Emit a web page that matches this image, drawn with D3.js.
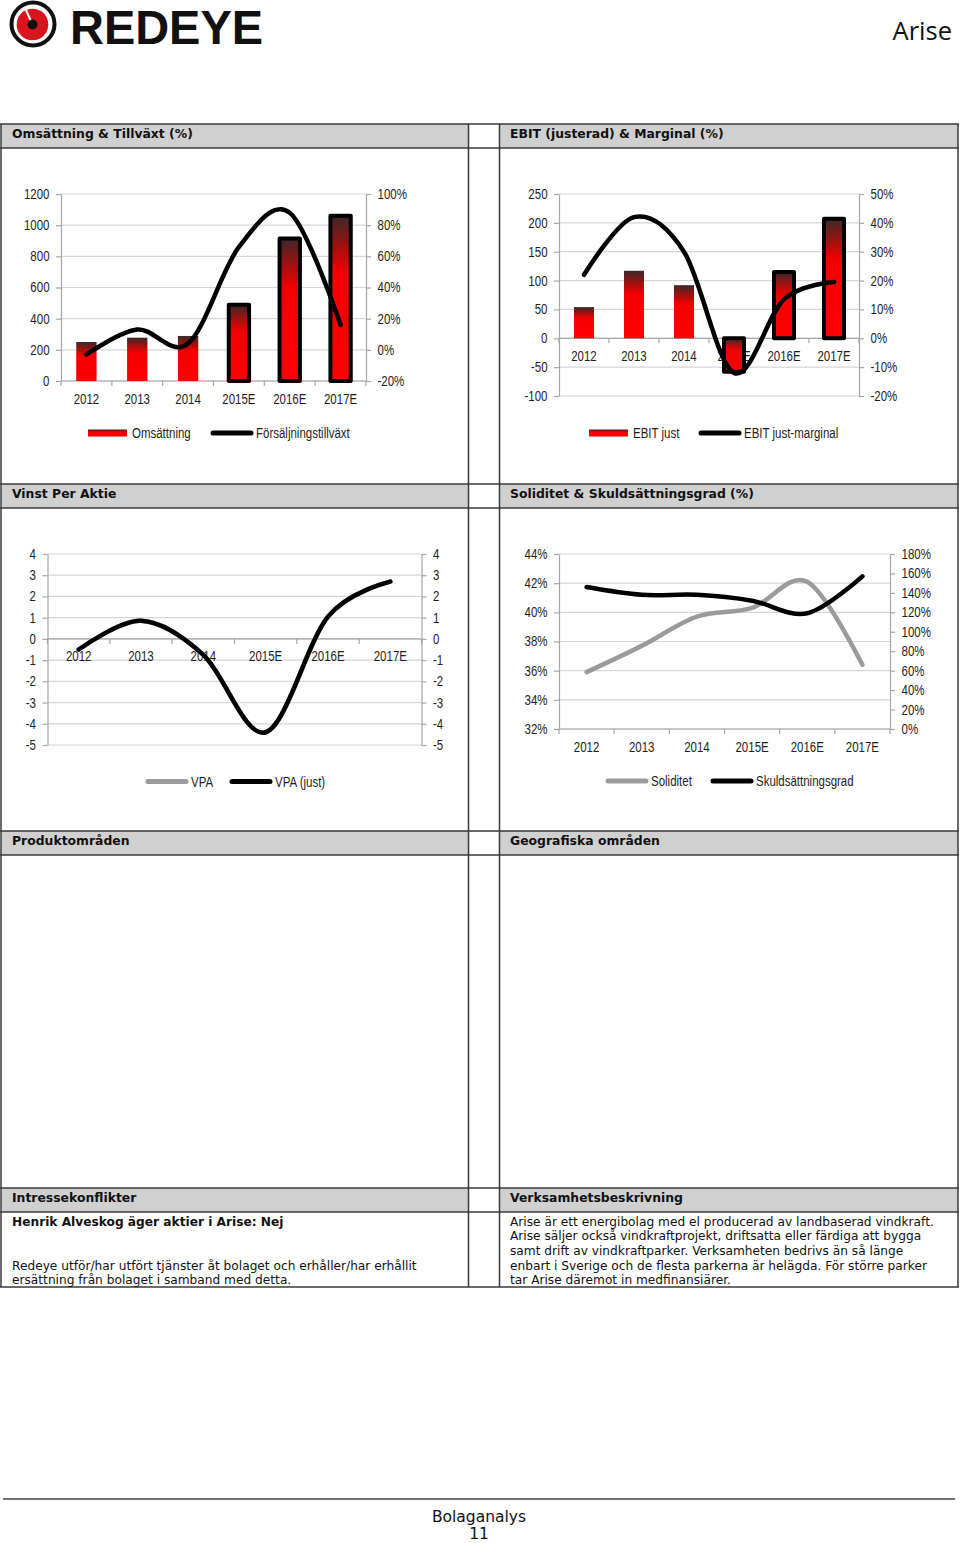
<!DOCTYPE html>
<html>
<head>
<meta charset="utf-8">
<script src="https://cdn.jsdelivr.net/npm/d3@7"></script>
<style>
  body { margin: 0; background: #fff; }
  svg { display: block; }
</style>
</head>
<body>
<svg id="page" width="960" height="1543"></svg>
<script>
// ---- data ----
const years = ['2012', '2013', '2014', '2015E', '2016E', '2017E'];

const omsattning = [250, 278, 289, 490, 915, 1060];
const tillvaxt = [-3, 13, 4, 66, 88, 16];           // %

const ebitJust = [54, 117, 92, -58, 115, 207];
const ebitMarginal = [22, 42, 30, -12, 13.5, 19.5]; // %

const vpa = [-0.5, 0.85, -0.75, -4.4, 1.05, 2.7];
const vpaJust = [-0.5, 0.85, -0.75, -4.4, 1.05, 2.7];

const soliditet = [35.9, 37.7, 39.7, 40.3, 42.1, 36.4];  // %
const skuldsattning = [146, 138, 138, 132, 119, 157];    // %

const ticks1L = [0, 200, 400, 600, 800, 1000, 1200];
const ticks1R = [-20, 0, 20, 40, 60, 80, 100];
const ticks2L = [-100, -50, 0, 50, 100, 150, 200, 250];
const ticks2R = [-20, -10, 0, 10, 20, 30, 40, 50];
const ticks3 = [-5, -4, -3, -2, -1, 0, 1, 2, 3, 4];
const ticks4L = [32, 34, 36, 38, 40, 42, 44];
const ticks4R = [0, 20, 40, 60, 80, 100, 120, 140, 160, 180];

const sections = [
  {y: 124, left: 'Omsättning & Tillväxt (%)', right: 'EBIT (justerad) & Marginal (%)'},
  {y: 484, left: 'Vinst Per Aktie', right: 'Soliditet & Skuldsättningsgrad (%)'},
  {y: 831, left: 'Produktområden', right: 'Geografiska områden'},
  {y: 1188, left: 'Intressekonflikter', right: 'Verksamhetsbeskrivning'}
];
const conflictLines = [
  'Redeye utför/har utfört tjänster åt bolaget och erhåller/har erhållit',
  'ersättning från bolaget i samband med detta.'
];
const descLines = [
  'Arise är ett energibolag med el producerad av landbaserad vindkraft.',
  'Arise säljer också vindkraftprojekt, driftsatta eller färdiga att bygga',
  'samt drift av vindkraftparker. Verksamheten bedrivs än så länge',
  'enbart i Sverige och de flesta parkerna är helägda. För större parker',
  'tar Arise däremot in medfinansiärer.'
];

const svg = d3.select('#page');
const BORDER = '#3a3a3a';
const VERDANA = "'DejaVu Sans', Verdana, sans-serif";

// Excel charts use Arial Narrow; use Liberation Sans Narrow if present, else squeeze Liberation Sans
function measure(family, s) {
  const t = svg.append('text').attr('font-family', family).attr('font-size', 20).text(s);
  const w = t.node().getComputedTextLength();
  t.remove();
  return w;
}
const probe = 'Försäljningstillväxt 2015E';
const hasNarrow = measure("'Liberation Sans Narrow'", probe) < 0.9 * measure("'Liberation Sans'", probe);
const CHART_FONT = hasNarrow ? "'Liberation Sans Narrow', sans-serif" : "'Liberation Sans', Arial, sans-serif";
function squeeze(sel) {
  if (hasNarrow) return;
  sel.each(function() {
    const w = this.getComputedTextLength();
    d3.select(this).attr('textLength', w * 0.82).attr('lengthAdjust', 'spacingAndGlyphs');
  });
}

// ---- gradient for the bars ----
const defs = svg.append('defs');
const grad = defs.append('linearGradient').attr('id', 'barGrad')
  .attr('x1', 0).attr('y1', 0).attr('x2', 0).attr('y2', 1);
grad.append('stop').attr('offset', '0%').attr('stop-color', '#3b2828');
grad.append('stop').attr('offset', '15%').attr('stop-color', '#8e1414');
grad.append('stop').attr('offset', '34%').attr('stop-color', '#f20000');
grad.append('stop').attr('offset', '100%').attr('stop-color', '#ff0000');

// ---- page header ----
const logo = svg.append('g');
logo.append('circle').attr('cx', 33).attr('cy', 24).attr('r', 21.5)
  .attr('fill', '#fff').attr('stroke', '#111').attr('stroke-width', 4);
logo.append('circle').attr('cx', 32.5).attr('cy', 24.5).attr('r', 15.8).attr('fill', '#d8141c');
logo.append('circle').attr('cx', 32.5).attr('cy', 24.5).attr('r', 5).attr('fill', '#111');
logo.append('path').attr('d', 'M26,10 L30.5,20').attr('stroke', '#fff').attr('stroke-width', 2);
svg.append('text').attr('x', 70).attr('y', 44)
  .attr('font-family', "'Liberation Sans', Arial, sans-serif").attr('font-weight', 'bold')
  .attr('font-size', 49).attr('fill', '#111')
  .attr('textLength', 193).attr('lengthAdjust', 'spacingAndGlyphs').text('REDEYE');
svg.append('text').attr('x', 952).attr('y', 40).attr('text-anchor', 'end')
  .attr('font-family', "'Open Sans', sans-serif").attr('font-size', 25.5).attr('fill', '#111')
  .text('Arise');

// ---- table frame ----
const colL = [1, 468.5], colR = [499.5, 958];
const frame = svg.append('g');
sections.forEach(s => {
  frame.append('rect').attr('x', colL[0]).attr('y', s.y).attr('width', colL[1] - colL[0]).attr('height', 24).attr('fill', '#d0d0d0');
  frame.append('rect').attr('x', colR[0]).attr('y', s.y).attr('width', colR[1] - colR[0]).attr('height', 24).attr('fill', '#d0d0d0');
  [s.y, s.y + 24].forEach(y => frame.append('line').attr('x1', 0).attr('x2', 959).attr('y1', y).attr('y2', y)
    .attr('stroke', BORDER).attr('stroke-width', 1.5));
  frame.append('text').attr('x', 12).attr('y', s.y + 9.3).attr('dy', '0.36em')
    .attr('font-family', VERDANA).attr('font-weight', 'bold').attr('font-size', 12.4).attr('fill', '#111').text(s.left);
  frame.append('text').attr('x', 510).attr('y', s.y + 9.3).attr('dy', '0.36em')
    .attr('font-family', VERDANA).attr('font-weight', 'bold').attr('font-size', 12.4).attr('fill', '#111').text(s.right);
});
frame.append('line').attr('x1', 0).attr('x2', 959).attr('y1', 1287).attr('y2', 1287)
  .attr('stroke', BORDER).attr('stroke-width', 1.5);
[colL[0], colL[1], colR[0], colR[1]].forEach(x => frame.append('line')
  .attr('x1', x).attr('x2', x).attr('y1', 124).attr('y2', 1287).attr('stroke', BORDER).attr('stroke-width', 1.5));

// ---- text cells ----
frame.append('text').attr('x', 12).attr('y', 1226)
  .attr('font-family', VERDANA).attr('font-weight', 'bold').attr('font-size', 12.2).attr('fill', '#111')
  .text('Henrik Alveskog äger aktier i Arise: Nej');
frame.selectAll('text.conf').data(conflictLines).join('text').attr('class', 'conf')
  .attr('x', 12).attr('y', (d, i) => 1269.5 + i * 14.7)
  .attr('font-family', VERDANA).attr('font-size', 12.2).attr('fill', '#111').text(d => d);
frame.selectAll('text.desc').data(descLines).join('text').attr('class', 'desc')
  .attr('x', 510).attr('y', (d, i) => 1225.5 + i * 14.7)
  .attr('font-family', VERDANA).attr('font-size', 12.2).attr('fill', '#111').text(d => d);

// ---- footer ----
svg.append('line').attr('x1', 3).attr('x2', 955).attr('y1', 1499).attr('y2', 1499)
  .attr('stroke', '#444').attr('stroke-width', 1.3);
svg.append('text').attr('x', 479).attr('y', 1522).attr('text-anchor', 'middle')
  .attr('font-family', VERDANA).attr('font-size', 15.5).attr('fill', '#111').text('Bolaganalys');
svg.append('text').attr('x', 479).attr('y', 1538.5).attr('text-anchor', 'middle')
  .attr('font-family', VERDANA).attr('font-size', 15.5).attr('fill', '#111').text('11');

// ---- chart drawing ----
const pct = d => d + '%';

function drawChart(cfg) {
  const g = svg.append('g');
  const x = d3.scaleBand().domain(years).range([cfg.x0, cfg.x1]);
  const xb = d3.scaleBand().domain(years).range([cfg.x0, cfg.x1]).paddingInner(0.6).paddingOuter(0.3);
  const yL = d3.scaleLinear().domain(d3.extent(cfg.leftTicks)).range([cfg.y1, cfg.y0]);
  const yR = d3.scaleLinear().domain(d3.extent(cfg.rightTicks)).range([cfg.y1, cfg.y0]);
  const mid = d => x(d) + x.bandwidth() / 2;

  // gridlines
  g.append('g').selectAll('line').data(cfg.leftTicks).join('line')
    .attr('x1', cfg.x0).attr('x2', cfg.x1)
    .attr('y1', d => yL(d)).attr('y2', d => yL(d))
    .attr('stroke', '#d6d6d6').attr('stroke-width', 1.2);

  // value axes
  const la = g.append('g').attr('transform', `translate(${cfg.x0},0)`)
    .call(d3.axisLeft(yL).tickValues(cfg.leftTicks).tickFormat(cfg.leftFmt).tickSize(5).tickSizeOuter(0).tickPadding(6.5));
  const ra = g.append('g').attr('transform', `translate(${cfg.x1},0)`)
    .call(d3.axisRight(yR).tickValues(cfg.rightTicks).tickFormat(cfg.rightFmt).tickSize(5).tickSizeOuter(0).tickPadding(6.5));
  [la, ra].forEach(a => {
    a.attr('font-family', null).attr('font-size', null);
    a.select('.domain').attr('stroke', '#a6a6a6').attr('stroke-width', 1.2);
    a.selectAll('.tick line').attr('stroke', '#a6a6a6').attr('stroke-width', 1.2);
    a.selectAll('.tick text').attr('font-family', CHART_FONT).attr('font-size', 14).attr('fill', '#1e1e1e');
    squeeze(a.selectAll('.tick text'));
  });

  // category axis
  const ay = yL(cfg.catAt);
  const cat = g.append('g');
  cat.append('line').attr('x1', cfg.x0).attr('x2', cfg.x1).attr('y1', ay).attr('y2', ay)
    .attr('stroke', '#a6a6a6').attr('stroke-width', 1.2);
  cat.selectAll('line.tk').data(years.map(d => x(d)).concat([cfg.x1])).join('line').attr('class', 'tk')
    .attr('x1', d => d).attr('x2', d => d).attr('y1', ay).attr('y2', ay + 5)
    .attr('stroke', '#a6a6a6').attr('stroke-width', 1.2);
  const labels = cat.selectAll('text').data(years).join('text')
    .attr('x', d => mid(d)).attr('y', ay + 22.5).attr('text-anchor', 'middle')
    .attr('font-family', CHART_FONT).attr('font-size', 14).attr('fill', '#1e1e1e').text(d => d);
  squeeze(labels);

  // bars
  if (cfg.bars) {
    const rows = years.map((d, i) => ({year: d, v: cfg.bars[i], est: d.endsWith('E')}));
    g.append('g').selectAll('rect').data(rows).join('rect')
      .attr('x', d => xb(d.year)).attr('width', xb.bandwidth())
      .attr('y', d => Math.min(yL(d.v), yL(0)))
      .attr('height', d => Math.abs(yL(d.v) - yL(0)))
      .attr('fill', 'url(#barGrad)')
      .attr('stroke', d => d.est ? '#000' : 'none')
      .attr('stroke-width', 4).attr('stroke-linejoin', 'round');
  }

  // lines
  cfg.lines.forEach(ln => {
    const sc = ln.axis === 'right' ? yR : yL;
    const line = d3.line().x((d, i) => mid(years[i])).y(d => sc(d)).curve(d3.curveCardinal.tension(0));
    g.append('path').datum(ln.values).attr('d', line)
      .attr('fill', 'none').attr('stroke', ln.color).attr('stroke-width', 4.5)
      .attr('stroke-linecap', 'round').attr('stroke-linejoin', 'round');
  });

  // legend
  const lg = g.append('g');
  cfg.legend.forEach(it => {
    if (it.kind === 'bar') {
      lg.append('rect').attr('x', it.x).attr('y', cfg.legendY - 3.5).attr('width', 39).attr('height', 7)
        .attr('fill', 'url(#barGrad)');
    } else {
      lg.append('line').attr('x1', it.x + 1).attr('x2', it.x + 39).attr('y1', cfg.legendY).attr('y2', cfg.legendY)
        .attr('stroke', it.color).attr('stroke-width', 5).attr('stroke-linecap', 'round');
    }
    const t = lg.append('text').attr('x', it.x + 44).attr('y', cfg.legendY).attr('dy', '0.36em')
      .attr('font-family', CHART_FONT).attr('font-size', 14).attr('fill', '#1e1e1e').text(it.label);
    squeeze(t);
  });
}

drawChart({
  x0: 61, x1: 366, y0: 194, y1: 381,
  leftTicks: ticks1L, rightTicks: ticks1R, leftFmt: d => d, rightFmt: pct, catAt: 0,
  bars: omsattning,
  lines: [{values: tillvaxt, axis: 'right', color: '#000'}],
  legendY: 433,
  legend: [{kind: 'bar', x: 88, label: 'Omsättning'}, {kind: 'line', x: 212, color: '#000', label: 'Försäljningstillväxt'}]
});

drawChart({
  x0: 559, x1: 859, y0: 194, y1: 396,
  leftTicks: ticks2L, rightTicks: ticks2R, leftFmt: d => d, rightFmt: pct, catAt: 0,
  bars: ebitJust,
  lines: [{values: ebitMarginal, axis: 'right', color: '#000'}],
  legendY: 433,
  legend: [{kind: 'bar', x: 589, label: 'EBIT just'}, {kind: 'line', x: 700, color: '#000', label: 'EBIT just-marginal'}]
});

drawChart({
  x0: 47.5, x1: 421.5, y0: 554, y1: 745,
  leftTicks: ticks3, rightTicks: ticks3, leftFmt: d => d, rightFmt: d => d, catAt: 0,
  lines: [{values: vpa, axis: 'left', color: '#9b9b9b'}, {values: vpaJust, axis: 'left', color: '#000'}],
  legendY: 781.5,
  legend: [{kind: 'line', x: 147, color: '#9b9b9b', label: 'VPA'}, {kind: 'line', x: 231, color: '#000', label: 'VPA (just)'}]
});

drawChart({
  x0: 559, x1: 890, y0: 554, y1: 729,
  leftTicks: ticks4L, rightTicks: ticks4R, leftFmt: pct, rightFmt: pct, catAt: 32,
  lines: [{values: soliditet, axis: 'left', color: '#9b9b9b'}, {values: skuldsattning, axis: 'right', color: '#000'}],
  legendY: 781,
  legend: [{kind: 'line', x: 607, color: '#9b9b9b', label: 'Soliditet'}, {kind: 'line', x: 712, color: '#000', label: 'Skuldsättningsgrad'}]
});
</script>
</body>
</html>
